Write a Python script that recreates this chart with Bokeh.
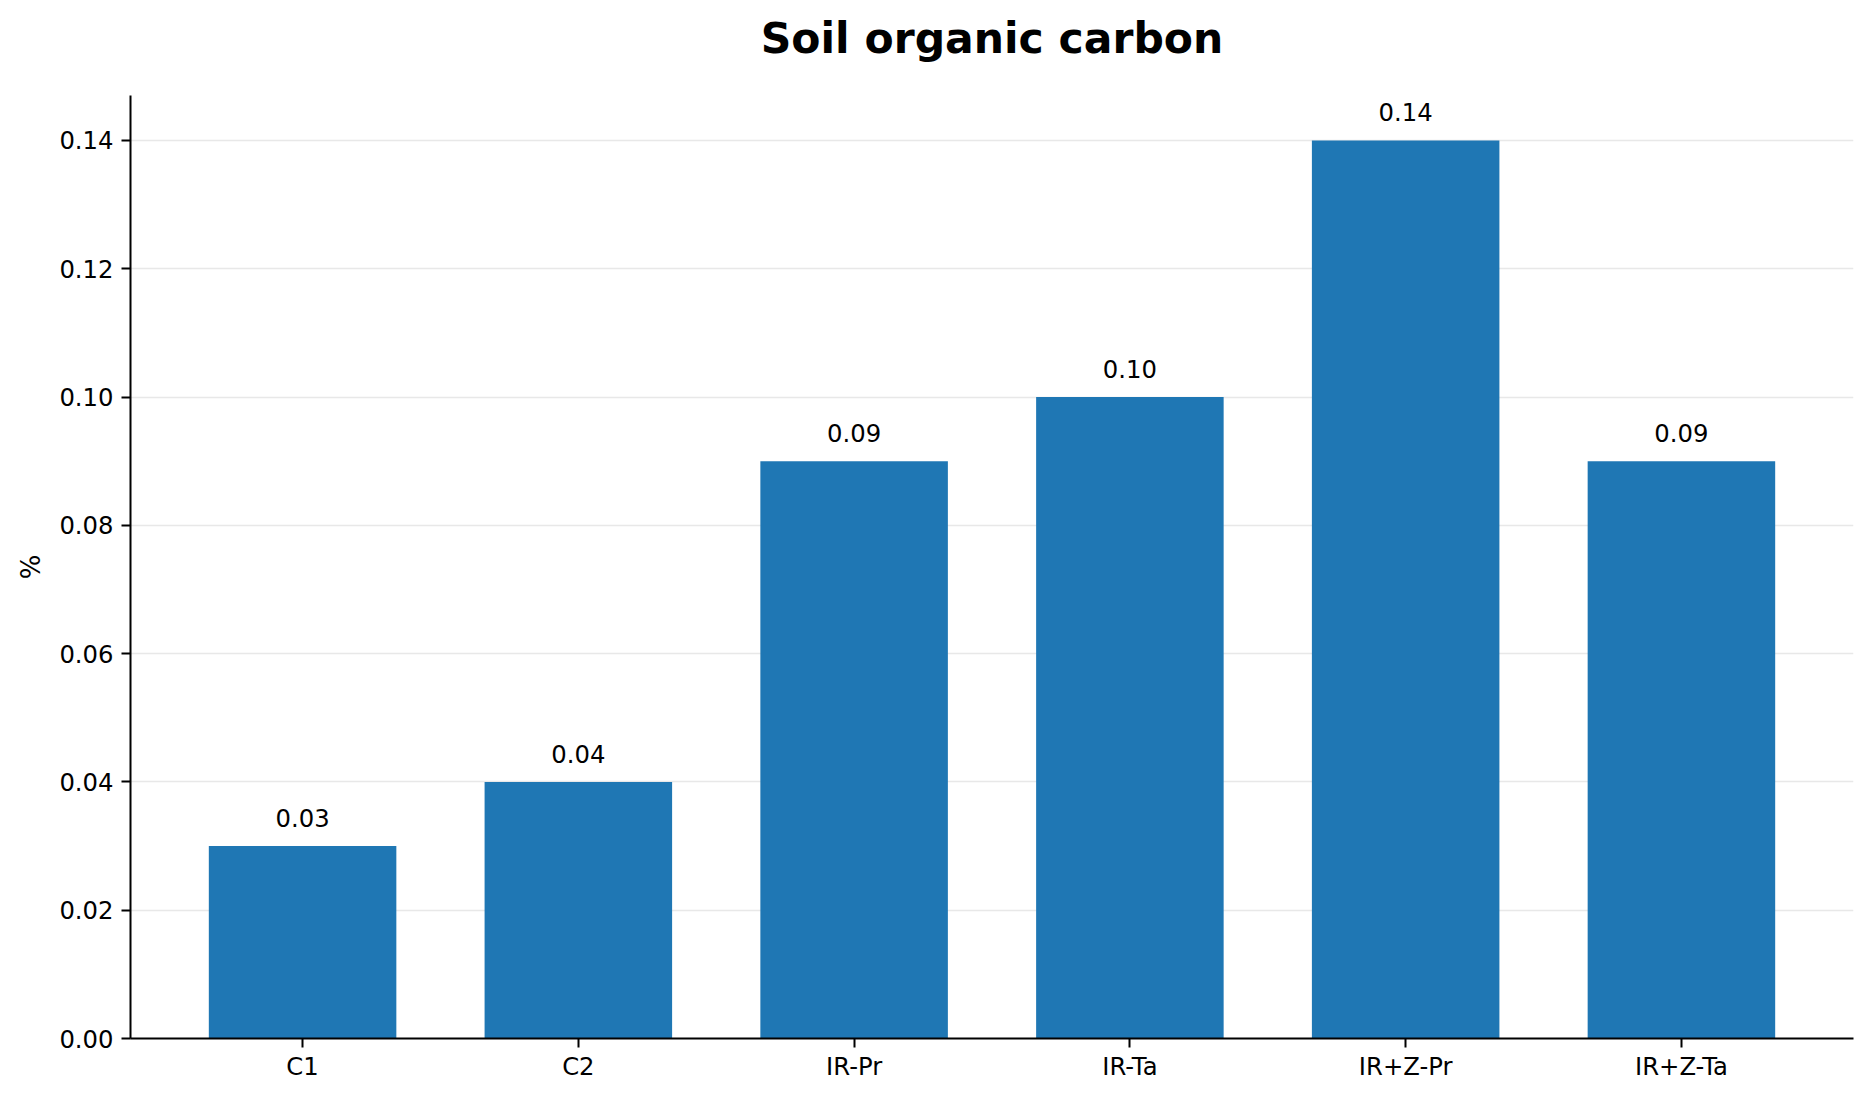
from bokeh.plotting import figure
from bokeh.models import ColumnDataSource, FixedTicker, NumeralTickFormatter, Range1d, LabelSet, Title
from bokeh.core.properties import value
from bokeh.embed import file_html
from bokeh.resources import INLINE

# data
categories = ["C1", "C2", "IR-Pr", "IR-Ta", "IR+Z-Pr", "IR+Z-Ta"]
soc_values = [0.03, 0.04, 0.09, 0.10, 0.14, 0.09]
y_ticks = [0.0, 0.02, 0.04, 0.06, 0.08, 0.10, 0.12, 0.14]

FONT = "DejaVu Sans"
LABEL_SIZE = "24.3px"

xpos = list(range(len(categories)))
source = ColumnDataSource(data=dict(
    x=xpos,
    top=soc_values,
    label=["%.2f" % v for v in soc_values],
))

p = figure(
    width=1863,
    height=1090,
    x_range=Range1d(-0.624, len(categories) - 1 + 0.624),
    y_range=Range1d(0, max(soc_values) * 1.05),
    output_backend="svg",
    toolbar_location=None,
    min_border_left=130,
    min_border_right=10,
    min_border_top=95,
    min_border_bottom=52,
)

# title: a blank spacer next to the frame, the real title above it
spacer = Title(text=" ", text_font_size="10px", standoff=10)
p.add_layout(spacer, "above")
main_title = Title(text="Soil organic carbon", align="center", text_font=FONT,
                   text_font_size="42.5px", text_font_style="bold",
                   text_color="black", standoff=20)
p.add_layout(main_title, "above")

# bars
p.vbar(x="x", top="top", width=0.68, bottom=0, source=source,
       fill_color="#1f77b4", line_color=None)

labels = LabelSet(x="x", y="top", text="label", source=source,
                  text_align="center", text_baseline="alphabetic",
                  y_offset=19, text_font=value(FONT), text_font_size=value(LABEL_SIZE),
                  text_color="black")
p.add_layout(labels)

# axes
p.xaxis.ticker = FixedTicker(ticks=xpos)
p.xaxis.major_label_overrides = {i: c for i, c in enumerate(categories)}
p.yaxis.ticker = FixedTicker(ticks=y_ticks)
p.yaxis.formatter = NumeralTickFormatter(format="0.00")
p.yaxis.axis_label = "%"
p.yaxis.axis_label_standoff = 10
p.yaxis.axis_label_text_font = FONT
p.yaxis.axis_label_text_font_size = "26px"
p.yaxis.axis_label_text_font_style = "normal"
p.yaxis.axis_label_text_color = "black"

for ax in (p.xaxis, p.yaxis):
    ax.axis_line_width = 2
    ax.axis_line_color = "black"
    ax.major_tick_line_width = 2
    ax.major_tick_line_color = "black"
    ax.major_tick_out = 9
    ax.major_tick_in = 0
    ax.minor_tick_line_color = None
    ax.major_label_standoff = 8
    ax.major_label_text_font = FONT
    ax.major_label_text_font_size = LABEL_SIZE
    ax.major_label_text_color = "black"
p.xaxis.major_label_standoff = 4

# grid
p.xgrid.grid_line_color = None
p.ygrid.grid_line_color = "#e8e8e8"
p.ygrid.grid_line_width = 1.5
p.outline_line_color = None

open("out.html", "w").write(file_html(p, INLINE))
